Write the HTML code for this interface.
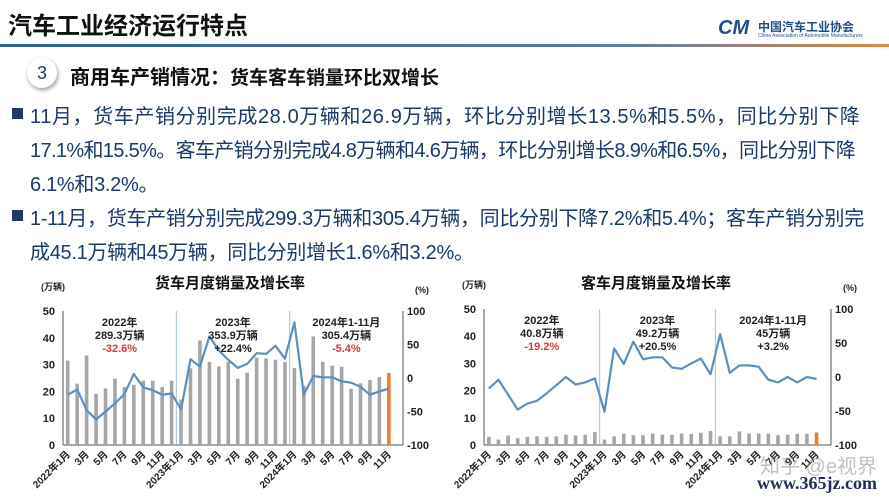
<!DOCTYPE html>
<html><head><meta charset="utf-8">
<style>
body{margin:0;width:889px;height:500px;overflow:hidden;background:#fff;font-family:"Liberation Sans","Noto Sans CJK SC",sans-serif;position:relative}
.abs{position:absolute;margin:0}
.bul{position:absolute;left:30px;font-size:20px;color:#1a3a6a;white-space:nowrap;letter-spacing:-0.3px}
.sq{position:absolute;left:12px;width:11px;height:11px;background:#1f3864}
</style></head><body>
<div class="abs" style="left:8px;top:6px;font-size:24px;font-weight:bold;color:#111">汽车工业经济运行特点</div>
<div class="abs" style="left:718px;top:17px;width:160px;height:24px">
 <span style="position:absolute;left:0;top:0;font-size:20px;font-weight:bold;font-style:italic;color:#1f4e8c">CM</span>
 <span style="position:absolute;left:40px;top:1px;font-size:12px;font-weight:bold;color:#1f4e8c">中国汽车工业协会</span>
 <span style="position:absolute;left:40px;top:16px;font-size:5px;color:#1f4e8c">China Association of Automobile Manufacturers</span>
</div>
<div class="abs" style="left:0;top:44px;width:889px;height:3px;background:linear-gradient(90deg,#2e5f96,#5a7fa8 70%,#e0883a)"></div>
<div class="abs" style="left:27px;top:58px;width:30px;height:30px;border-radius:50%;background:#fff;box-shadow:1px 2px 4px #999;text-align:center;line-height:30px;font-size:18px;color:#1f3864">3</div>
<div class="abs" style="left:70px;top:61px;font-size:20px;font-weight:bold;color:#111">商用车产销情况：<span style="font-size:19px">货车客车销量环比双增长</span></div>
<div class="sq" style="top:108px"></div>
<div class="bul" style="top:100px;letter-spacing:0.6px">11月，货车产销分别完成28.0万辆和26.9万辆，环比分别增长13.5%和5.5%，同比分别下降</div>
<div class="bul" style="top:134px;letter-spacing:-0.65px">17.1%和15.5%。客车产销分别完成4.8万辆和4.6万辆，环比分别增长8.9%和6.5%，同比分别下降</div>
<div class="bul" style="top:168px">6.1%和3.2%。</div>
<div class="sq" style="top:210px"></div>
<div class="bul" style="top:202px">1-11月，货车产销分别完成299.3万辆和305.4万辆，同比分别下降7.2%和5.4%；客车产销分别完</div>
<div class="bul" style="top:236px">成45.1万辆和45万辆，同比分别增长1.6%和3.2%。</div>

<svg id="chart" width="889" height="500" style="position:absolute;left:0;top:0"></svg>
<div class="abs" style="left:760px;top:450px;font-size:20px;color:rgba(120,120,120,0.45)">知乎 @e视界</div>
<div class="abs" style="left:757px;top:473px;font-size:18px;font-weight:bold;font-family:'Liberation Serif',serif;color:#1c2f5a">www.365jz.com</div>
<script>
const truckBars=[31.5,22.9,33.4,19.1,21.1,24.7,21.6,22.5,24,24,21.6,24, 17,28.6,39,31,29.3,31,24.7,27,32.6,32.3,31.8,31, 28.7,22,40.5,31,29.6,29.2,21,23,24.2,25.3,26.9];
const truckPct=[-25,-17,-48,-62,-50,-38,-24,6,-14,-18,-25,-23, -47,28,17,62,41,27,15,21,37,36,48,29, 83,-25,3,1,1,-5,-7,-13,-25,-20,-16];
const busBars=[3,2,3.5,2.5,3,3.2,3,3.2,3.8,3.5,3.8,4.8, 2,3.2,4.2,3.6,3.6,4.2,3.8,3.8,4.2,4.1,4.5,5.2, 3.2,3.2,5,4.2,4.2,4.2,3.6,3.8,4.1,4.1,4.6];
const busPct=[-17,-4,-26,-48,-39,-35,-24,-12,0,-11,-8,-2, -51,42,19,52,26,29,29,14,12,20,27,4, 63,6,17,17,15,-4,-8,0,-8,0,-3];
const leftTicks=[0,10,20,30,40,50];
const rightTicks=[-100,-50,0,50,100];
const xLabels=["2022年1月","3月","5月","7月","9月","11月","2023年1月","3月","5月","7月","9月","11月","2024年1月","3月","5月","7月","9月","11月"];
const truckNotes=[["2022年","289.3万辆","-32.6%"],["2023年","353.9万辆","+22.4%"],["2024年1-11月","305.4万辆","-5.4%"]];
const busNotes=[["2022年","40.8万辆","-19.2%"],["2023年","49.2万辆","+20.5%"],["2024年1-11月","45万辆","+3.2%"]];
const NS="http://www.w3.org/2000/svg";
const svg=document.getElementById('chart');
function mk(t,a,p){const e=document.createElementNS(NS,t);for(const k in a)e.setAttribute(k,a[k]);(p||svg).appendChild(e);return e;}
function draw(o){
 const g=mk('g',{});
 
 
 const slot=(o.x1-o.x0)/36;
 const xs=i=>o.x0+(i+0.5)*slot;
 const yL=v=>o.y0-(v/50)*(o.y0-o.y50);
 const yR=v=>o.y0-((v+100)/200)*(o.y0-o.y50);
 const t=mk('text',{x:o.titleX,y:288,'font-size':15,'font-weight':'bold','text-anchor':'middle',fill:'#111'},g);t.textContent=o.title;
 
 const u=mk('text',{x:o.x0-22,y:o.y50-21,'font-size':9,'font-weight':'bold',fill:'#222'},g);u.textContent='(万辆)';
 
 const p=mk('text',{x:o.x1+12,y:o.y50-18,'font-size':9,'font-weight':'bold',fill:'#222'},g);p.textContent='(%)';
 
 mk('line',{x1:o.x0,y1:o.y50,x2:o.x0,y2:o.y0,stroke:'#555','stroke-width':1},g);
 mk('line',{x1:o.x1,y1:o.y50,x2:o.x1,y2:o.y0,stroke:'#555','stroke-width':1},g);
 mk('line',{x1:o.x0,y1:o.y0,x2:o.x1,y2:o.y0,stroke:'#555','stroke-width':1},g);
 [12,24].forEach(k=>mk('line',{x1:o.x0+k*slot,y1:o.y50,x2:o.x0+k*slot,y2:o.y0,stroke:'#a8c0d8','stroke-width':1},g));
 leftTicks.forEach(v=>{const e=mk('text',{x:o.x0-8,y:yL(v)+4,'font-size':11,'font-weight':'bold','text-anchor':'end',fill:'#222'},g);e.textContent=v;
  });
 rightTicks.forEach(v=>{const e=mk('text',{x:o.x1+4,y:yR(v)+4,'font-size':11,'font-weight':'bold',fill:'#222'},g);e.textContent=v;
  });
 o.bars.forEach((v,i)=>{const r=mk('rect',{x:xs(i)-1.8,y:yL(v),width:3.6,height:o.y0-yL(v),fill:i==o.bars.length-1?'#ed7d31':'#a6a6a6'},g);
  });
 const path=o.pct.map((v,i)=>(i?'L':'M')+xs(i).toFixed(1)+','+yR(v).toFixed(1)).join('');
 const l=mk('path',{d:path,fill:'none',stroke:'#5b8fc0','stroke-width':2.2,'stroke-linejoin':'round'},g);
 
 xLabels.forEach((s,j)=>{const x=xs(j*2);const y=o.y0+10;const e=mk('text',{x:x+3,y:y,'font-size':10,'font-weight':'bold','text-anchor':'end',fill:'#222',transform:`rotate(-45 ${x+3} ${y})`},g);e.textContent=s;
  });
 o.notes.forEach((n,k)=>{const cx=o.x0+(k*12+6)*slot;n.forEach((s,m)=>{const e=mk('text',{x:cx,y:o.y50+15+m*13,'font-size':11,'font-weight':'bold','text-anchor':'middle',fill:m==2&&s[0]=='-'?'#d9363e':'#222'},g);e.textContent=s;
  });});
}
draw({name:'truck-chart',title:'货车月度销量及增长率',titleX:230,x0:63,x1:403,y0:445,y50:311,bars:truckBars,pct:truckPct,notes:truckNotes});
draw({name:'bus-chart',title:'客车月度销量及增长率',titleX:656,x0:484,x1:831,y0:445,y50:309,bars:busBars,pct:busPct,notes:busNotes});
</script>
</body></html>
